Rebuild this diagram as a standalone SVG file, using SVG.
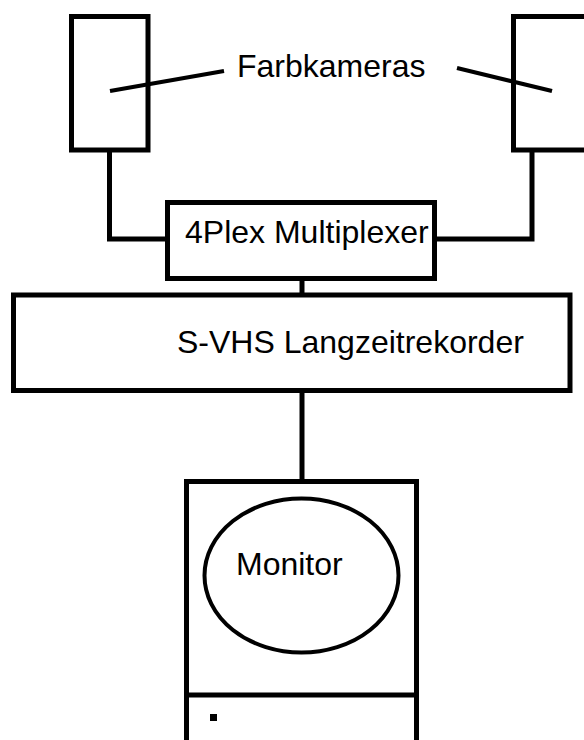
<svg xmlns="http://www.w3.org/2000/svg" width="584" height="740" viewBox="0 0 584 740">
  <style>
    .box { fill: #ffffff; stroke: #000000; stroke-width: 5; }
    .wire { fill: none; stroke: #000000; stroke-width: 5; }
    .lead { fill: none; stroke: #000000; stroke-width: 4; }
    .label { font-family: "Liberation Sans", Arial, sans-serif; font-size: 32px; fill: #000000; }
  </style>
  <rect width="584" height="740" fill="#ffffff"/>

  <!-- cabling between devices -->
  <g id="connectors">
    <polyline class="wire" points="109.5,150 109.5,239 167.5,239"/>
    <polyline class="wire" points="532,150 532,239 434.5,239"/>
    <line class="wire" x1="302" y1="278.5" x2="302" y2="295"/>
    <line class="wire" x1="302" y1="390.5" x2="302" y2="481.5"/>
  </g>

  <g id="camera-left">
    <rect class="box" x="71.5" y="16.5" width="76.5" height="133.5"/>
  </g>

  <g id="camera-right">
    <rect class="box" x="513.5" y="16.5" width="76.5" height="133.5"/>
  </g>

  <g id="camera-label">
    <line class="lead" x1="110" y1="91" x2="224" y2="71"/>
    <line class="lead" x1="457" y1="68" x2="552" y2="91"/>
    <text class="label" x="237" y="77">Farbkameras</text>
  </g>

  <g id="multiplexer">
    <rect class="box" x="167.5" y="202.5" width="267" height="76"/>
    <text class="label" x="185" y="243">4Plex Multiplexer</text>
  </g>

  <g id="recorder">
    <rect class="box" x="13.5" y="295" width="556.5" height="95.5"/>
    <text class="label" x="177" y="353">S-VHS Langzeitrekorder</text>
  </g>

  <g id="monitor">
    <polyline class="wire" points="186.5,745 186.5,481.5 416.5,481.5 416.5,745"/>
    <line class="wire" x1="186.5" y1="695" x2="416.5" y2="695"/>
    <ellipse cx="301.5" cy="575.5" rx="97" ry="77" fill="none" stroke="#000000" stroke-width="4"/>
    <text class="label" x="236" y="575">Monitor</text>
    <rect x="210" y="714" width="7" height="7" fill="#000000"/>
  </g>
</svg>
